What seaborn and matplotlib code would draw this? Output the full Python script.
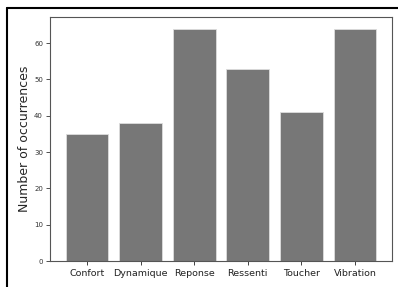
import pandas as pd
import matplotlib
import matplotlib.pyplot as plt
import seaborn as sns
from matplotlib.lines import Line2D

sns.set_theme(style="ticks")
plt.rcParams['font.family'] = ['DejaVu Sans']

# Occurrences per category
categories = ['Confort', 'Dynamique', 'Reponse', 'Ressenti', 'Toucher', 'Vibration']
counts = [35, 38, 64, 53, 41, 64]

df = pd.DataFrame({'Category': categories, 'Count': counts})

fig = plt.figure(figsize=(3.98, 2.87), dpi=100)
ax = fig.add_axes([50 / 398, 1 - 261 / 287, 342 / 398, 244 / 287])

sns.barplot(data=df, x='Category', y='Count', color='#777777', saturation=1,
            width=0.8, edgecolor='#dddddd', linewidth=0.6, ax=ax)

ax.set_xlim(-0.69, 5.69)
ax.set_ylim(0, 67.2)
ax.set_yticks(range(0, 61, 10))
ax.set_xlabel("")
ax.set_ylabel("Number of occurrences", fontsize=9, labelpad=2)
ax.tick_params(axis='y', labelsize=5, length=3, width=0.6, colors='#333333', pad=2)
ax.tick_params(axis='x', labelsize=6.8, length=3, width=0.6, colors='#222222', pad=3)
for s in ax.spines.values():
    s.set_color('#555555')
    s.set_linewidth(0.8)

# screenshot frame
fig.add_artist(Line2D([7 / 398, 1], [1 - 8 / 287, 1 - 8 / 287], color='black', lw=1.5))
fig.add_artist(Line2D([7 / 398, 7 / 398], [0, 1 - 8 / 287], color='black', lw=1.5))

plt.savefig('out.png', dpi=100)
